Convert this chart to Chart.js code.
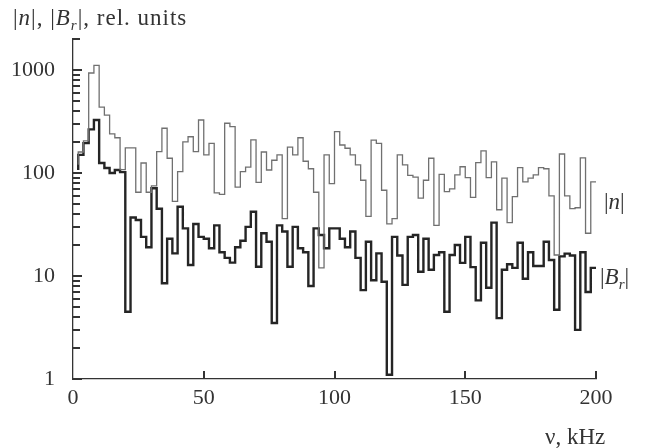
<!DOCTYPE html>
<html>
<head>
<meta charset="utf-8">
<script src="https://cdn.jsdelivr.net/npm/chart.js@4.4.1/dist/chart.umd.min.js"></script>
<style>
  html, body { margin: 0; padding: 0; background: #fff; }
  canvas { display: block; }
</style>
</head>
<body>
<canvas id="spec" width="647" height="448"></canvas>
<script>
// start of each 2 kHz bin; the last entry closes the histogram at 200 kHz
const binStart = [2, 4, 6, 8, 10, 12, 14, 16, 18, 20,
  22, 24, 26, 28, 30, 32, 34, 36, 38, 40,
  42, 44, 46, 48, 50, 52, 54, 56, 58, 60,
  62, 64, 66, 68, 70, 72, 74, 76, 78, 80,
  82, 84, 86, 88, 90, 92, 94, 96, 98, 100,
  102, 104, 106, 108, 110, 112, 114, 116, 118, 120,
  122, 124, 126, 128, 130, 132, 134, 136, 138, 140,
  142, 144, 146, 148, 150, 152, 154, 156, 158, 160,
  162, 164, 166, 168, 170, 172, 174, 176, 178, 180,
  182, 184, 186, 188, 190, 192, 194, 196, 198, 200];

// |n| spectrum
const nAmp = [120, 160, 205, 935, 1110, 437, 364, 240, 220, 108,
  175, 175, 65, 125, 65, 75, 161, 272, 139, 53,
  103, 201, 225, 161, 327, 150, 194, 64, 62, 304,
  282, 73, 103, 114, 210, 81, 160, 107, 133, 150,
  36, 178, 150, 220, 130, 110, 65, 12, 150, 79,
  252, 187, 174, 150, 120, 85, 38, 209, 194, 68,
  32, 36, 150, 120, 95, 91, 57, 85, 139, 31,
  97, 66, 70, 96, 115, 90, 58, 126, 164, 90,
  128, 44, 89, 33, 59, 113, 82, 89, 96, 113,
  110, 60, 16, 153, 60, 45, 46, 140, 26, 82];

// |B_r| spectrum
const bAmp = [107, 150, 195, 265, 327, 125, 112, 100, 107, 102,
  4.5, 37, 35, 24, 19, 71, 45, 8.5, 23, 16.6,
  47, 29, 12.8, 32, 24, 23, 18.6, 31, 17, 15,
  13.5, 19, 22, 30, 42, 12.3, 26, 21.5, 3.5, 31,
  27, 12.3, 30, 18.6, 17, 8, 29, 25, 18.6, 29,
  29, 23, 19, 27, 15, 7.3, 21.5, 9.1, 16.6, 8.8,
  1.1, 24, 15.8, 8.2, 24, 25, 11, 23, 11.5, 16,
  17, 4.5, 16, 20, 13.4, 24, 12.2, 5.8, 21, 7.7,
  33, 3.9, 11.5, 13, 12, 21, 9.4, 17, 12.5, 12.5,
  21.5, 14.3, 4.7, 15.5, 16.5, 15.8, 3, 17, 7, 12];

const yTicks = [1, 2, 3, 4, 5, 6, 7, 8, 9, 10, 20, 30, 40, 50, 60, 70, 80, 90,
  100, 200, 300, 400, 500, 600, 700, 800, 900, 1000, 2000];
const yLabels = [1, 10, 100, 1000];
const xTicks = [0, 50, 100, 150, 200];

const serif = "'Liberation Serif', 'DejaVu Serif', serif";
const axisColor = '#333';
const textColor = '#333';

// pieces of mixed text: [text, italic, subscript]
const titleRuns = [['|'], ['n', true], ['|, |'], ['B', true], ['r', true, true], ['|, rel. units']];
const nRuns = [['|'], ['n', true], ['|']];
const bRuns = [['|'], ['B', true], ['r', true, true], ['|']];

function drawRuns(ctx, runs, x, y, size, spacing) {
  for (const [t, italic, sub] of runs) {
    const s = sub ? Math.round(size * 0.65) : size;
    ctx.font = (italic ? 'italic ' : '') + s + 'px ' + serif;
    const dy = sub ? 5 : 0;
    for (const ch of t) {
      ctx.fillText(ch, x, y + dy);
      x += ctx.measureText(ch).width + spacing;
    }
  }
}

// inward tick marks (minor ones shorter) and the free-standing texts
const decorations = {
  id: 'decorations',
  afterDraw(chart) {
    const ctx = chart.ctx;
    const a = chart.chartArea;
    const x = chart.scales.x;
    const y = chart.scales.y;
    ctx.save();
    ctx.globalAlpha = 1;
    ctx.globalCompositeOperation = 'source-over';
    ctx.fillStyle = axisColor;
    for (const v of yTicks) {
      const py = Math.round(y.getPixelForValue(v));
      ctx.fillRect(Math.round(a.left), py - 1, yLabels.includes(v) ? 9 : 7, 2);
    }
    for (const v of xTicks) {
      if (v === 0) continue;
      const px = Math.round(x.getPixelForValue(v));
      ctx.fillRect(px - 1, Math.round(a.bottom) - 8, 2, 8);
    }
    ctx.fillStyle = textColor;
    ctx.textAlign = 'left';
    ctx.textBaseline = 'alphabetic';
    drawRuns(ctx, titleRuns, 13, 25, 23, 1);
    drawRuns(ctx, [['ν, kHz']], 545, 444, 23, 0);
    drawRuns(ctx, nRuns, 604, 209, 23, 0);
    drawRuns(ctx, bRuns, 600, 284, 23, 0);
    ctx.restore();
  }
};

const toPoints = arr => binStart.map((f, i) => ({ x: f, y: arr[i] }));

new Chart(document.getElementById('spec'), {
  type: 'line',
  data: {
    datasets: [{
      label: '|n|',
      data: toPoints(nAmp),
      stepped: 'after',
      borderColor: '#707070',
      borderWidth: 1.3,
      pointRadius: 0
    }, {
      label: '|Br|',
      data: toPoints(bAmp),
      stepped: 'after',
      borderColor: '#252525',
      borderWidth: 2.4,
      pointRadius: 0
    }]
  },
  options: {
    responsive: false,
    animation: false,
    devicePixelRatio: 1,
    layout: { padding: { top: 39, right: 51, left: 0, bottom: 0 } },
    plugins: { legend: { display: false }, tooltip: { enabled: false } },
    scales: {
      x: {
        type: 'linear',
        min: 0,
        max: 200,
        afterBuildTicks(s) { s.ticks = xTicks.map(v => ({ value: v })); },
        grid: { display: false },
        border: { color: axisColor, width: 1.3 },
        ticks: { font: { family: serif, size: 22 }, color: textColor, padding: -2, maxRotation: 0 },
        afterFit(s) { s.height = 69; }
      },
      y: {
        type: 'logarithmic',
        min: 1,
        max: 2000,
        afterBuildTicks(s) { s.ticks = yTicks.map(v => ({ value: v })); },
        grid: { display: false },
        border: { color: axisColor, width: 1.3 },
        ticks: {
          autoSkip: false,
          font: { family: serif, size: 22 },
          color: textColor,
          padding: 10,
          callback(v) { return yLabels.includes(v) ? String(v) : ''; }
        },
        afterFit(s) { s.width = 73; }
      }
    }
  },
  plugins: [decorations]
});
</script>
</body>
</html>
